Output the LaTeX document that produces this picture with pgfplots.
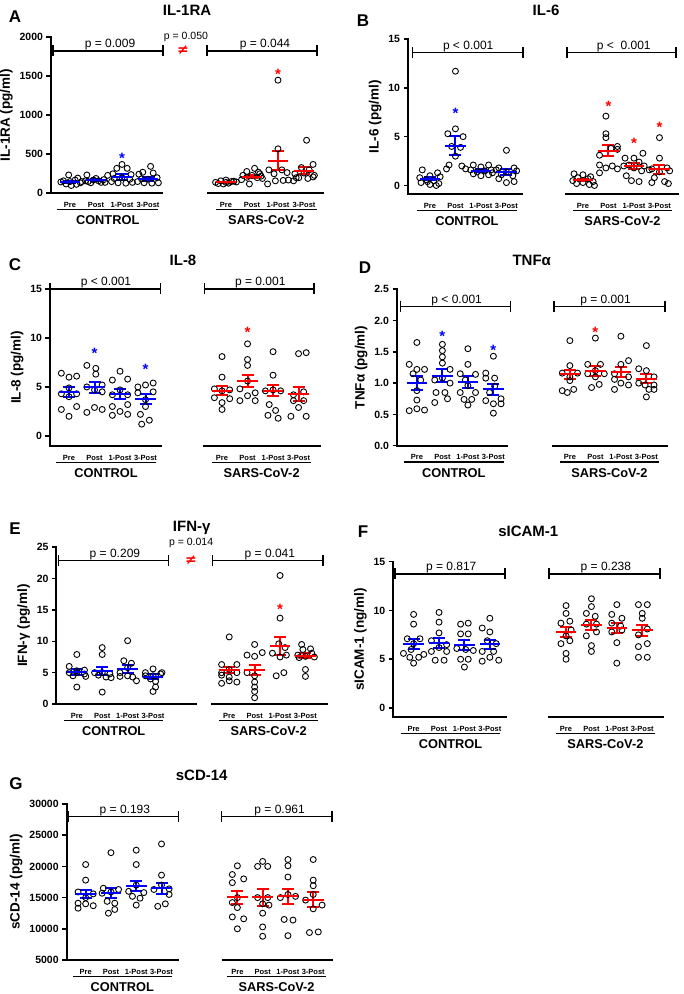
\documentclass[border=0pt]{standalone}
\usepackage{fontspec}
\setmainfont{Liberation Sans}
\newfontfamily\symfont{DejaVu Sans}
\usepackage{pgfplots}
\pgfplotsset{compat=1.18}
\usetikzlibrary{calc}

\newcommand{\tkfont}{\bfseries\fontsize{10.5}{12}\selectfont}
\newcommand{\lblfont}{\bfseries\fontsize{13.5}{15}\selectfont}
\newcommand{\grpfont}{\bfseries\fontsize{12.8}{14}\selectfont}
\newcommand{\catfont}{\bfseries\fontsize{7.5}{8}\selectfont}
\newcommand{\pfont}{\fontsize{12}{13}\selectfont}
\newcommand{\psmall}{\fontsize{10.5}{12}\selectfont}
\newcommand{\ttlfont}{\bfseries\fontsize{15}{17}\selectfont}
\newcommand{\letfont}{\bfseries\fontsize{17}{19}\selectfont}
\newcommand{\astfont}{\bfseries\fontsize{15}{15}\selectfont}

\pgfplotsset{
  cyto/.style={
    scale only axis, clip=false, anchor=south west,
    axis x line*=bottom, axis y line*=left,
    x axis line style={draw=none},
    y axis line style={line width=2pt, line cap=rect},
    xtick={1,2,3,4,7,8,9,10},
    xticklabels={Pre,Post,1-Post,3-Post,Pre,Post,1-Post,3-Post},
    xtick style={draw=none},
    xticklabel style={font=\catfont, yshift=-1pt},
    tick align=outside,
    major tick length=4.5pt,
    ytick style={line width=1.6pt, black},
    yticklabel style={font=\tkfont},
    /pgf/number format/assume math mode=true,
    /pgf/number format/1000 sep={},
    scaled y ticks=false,
    ylabel style={font=\lblfont},
  },
  pts/.style={only marks, mark=o, mark size=3pt, black, mark options={line width=0.9pt, black}},
  grp/.style={only marks, mark=-, mark size=10.3pt, #1,
    mark options={line width=2pt, #1},
    error bars/.cd, y dir=both, y explicit,
    error bar style={line width=2pt, #1},
    error mark options={rotate=90, mark size=6pt, line width=2pt, #1}},
}

% x-axis pieces, group underlines and group names
% #1 xmin, #2 end of control piece, #3 start of SARS piece, #4 xmax, #5 ymin
\newcommand{\xsegs}[5]{%
  \draw[line width=2pt] (axis cs:#1,#5) -- (axis cs:#2,#5);
  \draw[line width=2pt] (axis cs:#3,#5) -- (axis cs:#4,#5);
  \draw[line width=1.5pt] ($(axis cs:0.5,#5)+(0pt,-16.3pt)$) -- ($(axis cs:4.4,#5)+(0pt,-16.3pt)$);
  \draw[line width=1.5pt] ($(axis cs:6.6,#5)+(0pt,-16.3pt)$) -- ($(axis cs:10.5,#5)+(0pt,-16.3pt)$);
  \node[font=\grpfont] at ($(axis cs:2.45,#5)+(0pt,-27pt)$) {CONTROL};
  \node[font=\grpfont] at ($(axis cs:8.55,#5)+(0pt,-27pt)$) {SARS-CoV-2};
}
% significance bracket: #1 left, #2 right, #3 height, #4 text position, #5 text
\newcommand{\bracket}[5]{%
  \draw[line width=1.3pt] (axis cs:#1,#3) -- (axis cs:#2,#3);
  \draw[line width=1.3pt] ($(axis cs:#1,#3)+(0pt,5.5pt)$) -- ($(axis cs:#1,#3)+(0pt,-5.5pt)$);
  \draw[line width=1.3pt] ($(axis cs:#2,#3)+(0pt,5.5pt)$) -- ($(axis cs:#2,#3)+(0pt,-5.5pt)$);
  \node[anchor=base, yshift=3pt, font=\pfont] at (axis cs:#4,#3) {#5};
}
\newcommand{\sigstar}[3]{%
  \node[anchor=base, yshift=-8.5pt, text=#1, font=\astfont] at (axis cs:#2,#3) {*};
}
\newcommand{\neqmark}[2]{%
  \node[text=red, font=\symfont\bfseries\fontsize{14}{14}\selectfont] at (axis cs:#1,#2) {≠};
}

\begin{document}
\begin{tikzpicture}[x=1pt,y=1pt]
\path[use as bounding box] (0,0) rectangle (684,994);

% ---------------- A: IL-1RA ----------------
\node[font=\letfont] at (15,977) {A};
\node[font=\ttlfont] at (187,984) {IL-1RA};
\begin{axis}[cyto, at={(51pt,800.7pt)}, width=273pt, height=156pt,
  xmin=0.27, xmax=10.77, ymin=0, ymax=2000, ytick={0,500,1000,1500,2000},
  ylabel={IL-1RA (pg/ml)}]
\addplot[pts] table[row sep=\\]{x y\\
0.65 145\\ 0.85 120\\ 1.05 100\\ 1.25 115\\ 1.4 135\\ 0.75 160\\ 1.0 150\\ 1.2 170\\ 1.45 150\\ 0.95 235\\ 1.3 195\\
1.65 235\\ 1.7 150\\ 1.9 170\\ 2.1 160\\ 2.3 175\\ 2.45 230\\ 2.2 140\\ 2.0 190\\ 1.8 135\\ 2.35 140\\ 1.6 160\\
3.0 370\\ 2.8 320\\ 3.2 320\\ 2.65 250\\ 3.35 240\\ 3.0 200\\ 2.6 150\\ 2.85 135\\ 3.15 130\\ 3.4 140\\ 3.3 180\\ 2.7 190\\
4.1 345\\ 3.8 270\\ 4.2 260\\ 3.65 245\\ 4.35 200\\ 4.0 180\\ 3.6 150\\ 3.85 135\\ 4.15 130\\ 4.4 135\\ 3.75 185\\
6.6 140\\ 6.8 160\\ 7.0 170\\ 7.2 150\\ 7.4 145\\ 6.7 125\\ 6.9 120\\ 7.1 130\\ 7.3 155\\ 7.0 140\\
8.1 320\\ 7.8 280\\ 8.25 270\\ 7.65 230\\ 8.0 230\\ 8.35 220\\ 7.8 205\\ 8.2 200\\ 7.6 175\\ 8.4 190\\ 7.9 120\\ 8.3 250\\
9.0 1450\\ 9.0 570\\ 8.65 300\\ 9.35 265\\ 8.85 250\\ 9.15 300\\ 8.6 120\\ 9.4 170\\ 8.9 160\\ 9.2 165\\
10.1 680\\ 10.35 370\\ 9.9 330\\ 10.2 300\\ 9.65 250\\ 10.0 260\\ 10.35 210\\ 9.8 200\\ 10.15 190\\ 9.6 160\\ 9.7 200\\ 10.4 230\\
};
\addplot[grp=blue] table[row sep=\\, x=x, y=m, y error=s]{x m s\\ 1 145 13\\ 2 165 12\\ 3 210 38\\ 4 180 25\\};
\addplot[grp=red] table[row sep=\\, x=x, y=m, y error=s]{x m s\\ 7 140 6\\ 8 215 18\\ 9 420 125\\ 10 290 45\\};
\xsegs{0.27}{4.58}{6.27}{10.77}{0}
\bracket{0.35}{4.58}{1825}{2.54}{p = 0.009}
\bracket{6.27}{10.5}{1825}{8.5}{p = 0.044}
\node[font=\psmall] at (axis cs:5.46,2000) {p = 0.050};
\neqmark{5.35}{1838}
\sigstar{blue}{3}{490}
\sigstar{red}{9}{1573}
\end{axis}

% ---------------- B: IL-6 ----------------
\node[font=\letfont] at (363,973.3) {B};
\node[font=\ttlfont] at (546,984) {IL-6};
\begin{axis}[cyto, at={(408pt,799.7pt)}, width=270.6pt, height=155.3pt,
  xmin=0.14, xmax=10.75, ymin=-0.9, ymax=15, ytick={0,5,10,15},
  ylabel={IL-6 (pg/ml)}]
\addplot[pts] table[row sep=\\]{x y\\
0.7 1.6\\ 1.3 1.3\\ 1.0 1.0\\ 0.6 0.8\\ 1.4 0.9\\ 0.85 0.6\\ 1.15 0.5\\ 0.65 0.3\\ 1.35 0.2\\ 1.0 0.1\\ 0.9 0.4\\ 1.25 0.0\\
2.0 11.7\\ 2.0 5.8\\ 1.7 5.3\\ 2.3 5.0\\ 1.85 4.0\\ 2.2 3.9\\ 2.0 3.0\\ 1.75 2.1\\ 2.25 2.0\\ 1.65 1.7\\ 2.4 1.7\\
2.7 2.1\\ 3.3 2.1\\ 3.0 1.9\\ 2.6 1.6\\ 3.4 1.6\\ 2.85 1.4\\ 3.15 1.5\\ 2.7 1.2\\ 3.3 1.1\\ 3.0 1.0\\ 3.45 1.3\\
4.0 3.6\\ 3.7 1.8\\ 4.3 1.8\\ 3.6 1.6\\ 4.4 1.5\\ 4.0 1.4\\ 3.8 1.1\\ 4.25 1.0\\ 3.7 0.7\\ 4.3 0.4\\ 4.0 0.3\\
6.65 1.2\\ 7.0 1.1\\ 7.3 0.9\\ 6.8 0.8\\ 7.2 0.7\\ 6.6 0.5\\ 7.4 0.4\\ 7.0 0.3\\ 6.75 0.2\\ 7.25 0.1\\ 7.45 0.0\\
7.9 7.1\\ 7.9 5.3\\ 7.9 4.9\\ 8.35 4.0\\ 8.1 3.8\\ 8.35 3.7\\ 7.65 3.1\\ 7.65 2.1\\ 8.15 2.0\\ 7.9 1.8\\ 8.35 1.7\\ 7.65 1.3\\
9.35 3.3\\ 8.65 2.8\\ 9.0 2.8\\ 9.2 2.4\\ 8.8 2.1\\ 9.4 2.0\\ 8.6 2.0\\ 9.0 1.8\\ 9.3 1.5\\ 8.7 1.0\\ 8.9 0.5\\ 9.2 0.4\\
10.0 4.9\\ 10.0 2.8\\ 10.3 1.8\\ 9.7 1.7\\ 9.6 1.6\\ 10.4 1.5\\ 10.0 1.4\\ 9.8 0.8\\ 10.2 0.4\\ 9.7 0.3\\ 10.35 0.2\\
};
\addplot[grp=blue] table[row sep=\\, x=x, y=m, y error=s]{x m s\\ 1 0.68 0.15\\ 2 4.09 0.99\\ 3 1.53 0.12\\ 4 1.36 0.28\\};
\addplot[grp=red] table[row sep=\\, x=x, y=m, y error=s]{x m s\\ 7 0.58 0.1\\ 8 3.55 0.56\\ 9 2.01 0.3\\ 10 1.67 0.45\\};
\xsegs{0.14}{4.65}{6.3}{10.75}{-0.9}
\bracket{0.33}{4.65}{13.64}{2.5}{p < 0.001}
\bracket{6.37}{10.65}{13.64}{8.6}{p <\ \ 0.001}
\sigstar{blue}{2}{7.74}
\sigstar{red}{8}{8.49}
\sigstar{red}{9}{4.67}
\sigstar{red}{10}{6.3}
\end{axis}

% ---------------- C: IL-8 ----------------
\node[font=\letfont] at (15,729) {C};
\node[font=\ttlfont] at (183,734) {IL-8};
\begin{axis}[cyto, at={(50pt,548pt)}, width=271pt, height=157pt,
  xmin=0.255, xmax=10.88, ymin=-1.03, ymax=15, ytick={0,5,10,15},
  ylabel={IL-8 (pg/ml)}]
\addplot[pts] table[row sep=\\]{x y\\
0.7 6.4\\ 1.0 6.0\\ 1.3 6.1\\ 1.0 4.9\\ 0.7 4.3\\ 1.3 4.3\\ 1.0 4.0\\ 0.7 2.7\\ 1.3 3.0\\ 1.0 2.0\\
1.7 7.2\\ 2.05 6.9\\ 2.05 6.3\\ 2.3 5.2\\ 1.7 5.0\\ 2.0 4.7\\ 2.3 4.5\\ 2.0 2.9\\ 2.3 2.7\\ 1.7 2.4\\
3.0 6.6\\ 2.7 5.7\\ 3.3 5.8\\ 3.0 4.7\\ 2.7 4.2\\ 3.3 4.2\\ 2.7 3.0\\ 3.3 3.2\\ 3.0 2.5\\ 2.7 2.1\\ 3.3 2.2\\
3.7 5.0\\ 4.0 5.2\\ 4.3 5.4\\ 3.7 4.4\\ 4.3 4.5\\ 4.0 3.7\\ 4.0 3.0\\ 3.8 2.2\\ 3.85 1.2\\ 4.15 1.6\\
7.0 8.1\\ 7.0 6.0\\ 6.7 4.8\\ 7.0 4.6\\ 7.3 4.7\\ 6.7 3.9\\ 7.3 3.8\\ 7.0 3.4\\ 7.0 2.7\\
8.0 9.4\\ 8.0 7.8\\ 8.0 7.2\\ 8.0 5.6\\ 7.7 4.8\\ 8.3 4.4\\ 8.0 4.1\\ 7.7 3.6\\ 8.3 3.6\\
9.0 8.6\\ 9.0 6.2\\ 8.7 4.6\\ 9.0 4.7\\ 9.3 4.6\\ 8.85 3.2\\ 9.1 2.6\\ 8.8 2.1\\ 9.2 1.8\\
10.0 8.4\\ 10.3 8.5\\ 10.2 4.5\\ 9.8 4.2\\ 9.8 3.6\\ 10.2 3.6\\ 10.0 2.9\\ 9.7 2.0\\ 10.3 2.0\\
};
\addplot[grp=blue] table[row sep=\\, x=x, y=m, y error=s]{x m s\\ 1 4.45 0.5\\ 2 4.97 0.55\\ 3 4.28 0.5\\ 4 3.77 0.55\\};
\addplot[grp=red] table[row sep=\\, x=x, y=m, y error=s]{x m s\\ 7 4.63 0.5\\ 8 5.6 0.62\\ 9 4.63 0.6\\ 10 4.28 0.72\\};
\xsegs{0.255}{4.65}{6.27}{10.88}{-1.03}
\bracket{0.255}{4.6}{15}{2.45}{p < 0.001}
\bracket{6.3}{10.6}{15}{8.5}{p = 0.001}
\sigstar{blue}{2}{8.73}
\sigstar{blue}{4}{7.13}
\sigstar{red}{8}{10.9}
\end{axis}

% ---------------- D: TNFa ----------------
\node[font=\letfont] at (365,726) {D};
\node[font=\ttlfont] at (531.7,734) {TNFα};
\begin{axis}[cyto, at={(397pt,548.3pt)}, width=270.8pt, height=156.4pt,
  xmin=0.22, xmax=10.84, ymin=0, ymax=2.5, ytick={0,0.5,1,1.5,2,2.5},
  yticklabel style={/pgf/number format/fixed, /pgf/number format/fixed zerofill, /pgf/number format/precision=1},
  ylabel={TNFα (pg/ml)}]
\addplot[pts] table[row sep=\\]{x y\\
1.0 1.65\\ 0.7 1.3\\ 1.0 1.22\\ 1.3 1.22\\ 0.85 1.15\\ 1.15 1.05\\ 1.0 0.88\\ 1.0 0.73\\ 0.7 0.56\\ 1.0 0.59\\ 1.3 0.57\\
2.0 1.62\\ 2.0 1.52\\ 2.0 1.42\\ 2.0 1.32\\ 2.3 1.22\\ 1.7 1.05\\ 2.0 1.08\\ 2.3 1.0\\ 1.75 0.85\\ 2.1 0.85\\ 1.7 0.69\\ 2.2 0.75\\
3.0 1.55\\ 3.0 1.3\\ 2.7 1.15\\ 3.3 1.14\\ 2.9 1.05\\ 3.0 0.96\\ 2.7 0.85\\ 3.3 0.85\\ 2.85 0.74\\ 3.15 0.74\\ 3.0 0.65\\
4.0 1.43\\ 3.7 1.16\\ 3.7 1.08\\ 4.05 1.08\\ 4.05 0.95\\ 3.7 0.72\\ 4.3 0.75\\ 4.0 0.67\\ 4.3 0.67\\ 4.0 0.52\\ 3.85 0.85\\
7.0 1.68\\ 7.0 1.28\\ 6.7 1.16\\ 7.3 1.16\\ 7.0 1.1\\ 7.0 1.04\\ 6.7 0.88\\ 6.9 0.85\\ 7.15 0.9\\
8.0 1.72\\ 7.7 1.3\\ 8.2 1.3\\ 8.0 1.2\\ 7.7 1.15\\ 8.35 1.15\\ 8.0 1.1\\ 8.15 0.98\\ 7.85 0.93\\
9.0 1.75\\ 9.3 1.36\\ 9.0 1.3\\ 8.75 1.15\\ 8.75 1.06\\ 9.3 1.1\\ 9.0 1.0\\ 9.3 0.97\\ 8.75 0.9\\
10.0 1.6\\ 9.7 1.23\\ 10.0 1.2\\ 10.3 1.1\\ 9.7 1.0\\ 9.95 0.97\\ 10.3 0.97\\ 10.1 0.9\\ 10.3 0.9\\ 10.0 0.78\\
};
\addplot[grp=blue] table[row sep=\\, x=x, y=m, y error=s]{x m s\\ 1 1.0 0.115\\ 2 1.12 0.1\\ 3 1.02 0.09\\ 4 0.9 0.09\\};
\addplot[grp=red] table[row sep=\\, x=x, y=m, y error=s]{x m s\\ 7 1.14 0.07\\ 8 1.2 0.08\\ 9 1.18 0.08\\ 10 1.07 0.07\\};
\xsegs{0.22}{4.57}{6.29}{10.84}{0}
\bracket{0.36}{4.67}{2.23}{2.56}{p < 0.001}
\bracket{6.38}{10.73}{2.23}{8.4}{p = 0.001}
\sigstar{blue}{2}{1.8}
\sigstar{blue}{4}{1.57}
\sigstar{red}{8}{1.86}
\end{axis}

% ---------------- E: IFN-gamma ----------------
\node[font=\letfont] at (15,465.7) {E};
\node[font=\ttlfont] at (191.7,465.7) {IFN-γ};
\begin{axis}[cyto, at={(56.5pt,290pt)}, width=271.8pt, height=156.7pt,
  xmin=0.2, xmax=10.9, ymin=0, ymax=25, ytick={0,5,10,15,20,25},
  ylabel={IFN-γ (pg/ml)}]
\addplot[pts] table[row sep=\\]{x y\\
1.0 7.9\\ 0.7 6.0\\ 1.3 5.4\\ 1.0 5.3\\ 0.7 5.0\\ 1.0 5.0\\ 1.3 4.8\\ 0.85 4.5\\ 1.35 4.4\\ 1.0 2.7\\
2.0 9.0\\ 2.0 7.9\\ 1.7 5.0\\ 2.0 5.0\\ 2.3 4.8\\ 1.85 4.6\\ 2.15 4.3\\ 2.35 4.2\\ 2.0 1.9\\
3.0 10.1\\ 2.85 6.9\\ 3.15 6.5\\ 3.0 5.8\\ 2.7 5.0\\ 2.7 4.4\\ 3.0 4.5\\ 3.2 4.3\\ 3.35 3.7\\
4.0 5.6\\ 3.7 5.0\\ 4.3 4.8\\ 3.7 4.5\\ 4.0 4.5\\ 3.9 4.0\\ 4.1 3.6\\ 4.1 2.7\\ 4.0 2.0\\ 4.35 5.0\\
7.0 10.7\\ 6.7 6.3\\ 7.3 6.3\\ 7.0 5.5\\ 6.7 5.0\\ 7.3 5.0\\ 6.7 4.6\\ 7.0 4.3\\ 7.0 3.7\\ 7.3 3.5\\ 6.7 3.3\\
8.0 9.5\\ 8.3 8.2\\ 7.7 7.8\\ 8.0 7.6\\ 7.7 5.0\\ 8.0 4.5\\ 8.0 3.5\\ 8.0 2.7\\ 8.0 2.0\\ 8.0 1.0\\
9.0 20.5\\ 9.0 13.7\\ 8.7 8.1\\ 8.95 9.6\\ 9.2 9.0\\ 9.25 7.8\\ 9.0 7.5\\ 9.15 5.0\\ 8.85 4.5\\
9.85 9.5\\ 10.2 8.8\\ 9.9 8.7\\ 10.25 8.1\\ 9.7 7.8\\ 10.0 7.6\\ 10.35 7.5\\ 10.0 5.5\\ 10.0 4.4\\ 9.75 7.4\\
};
\addplot[grp=blue] table[row sep=\\, x=x, y=m, y error=s]{x m s\\ 1 5.15 0.5\\ 2 5.26 0.6\\ 3 5.58 0.65\\ 4 4.36 0.37\\};
\addplot[grp=red] table[row sep=\\, x=x, y=m, y error=s]{x m s\\ 7 5.42 0.55\\ 8 5.42 0.85\\ 9 9.3 1.45\\ 10 7.7 0.4\\};
\xsegs{0.2}{5.74}{6.3}{10.9}{0}
\bracket{0.28}{4.6}{22.85}{2.5}{p = 0.209}
\bracket{6.34}{10.69}{22.85}{8.6}{p = 0.041}
\node[font=\psmall] at (axis cs:5.5,25.7) {p = 0.014};
\neqmark{5.49}{23}
\sigstar{red}{9}{15.6}
\end{axis}

% ---------------- F: sICAM-1 ----------------
\node[font=\letfont] at (363,462.3) {F};
\node[font=\ttlfont] at (528.3,462.3) {sICAM-1};
\begin{axis}[cyto, at={(393.3pt,276.7pt)}, width=271.8pt, height=155.6pt,
  xmin=0.2, xmax=10.9, ymin=-0.95, ymax=15, ytick={0,5,10,15},
  ylabel={sICAM-1 (ng/ml)}]
\addplot[pts] table[row sep=\\]{x y\\
1.0 9.6\\ 1.0 8.6\\ 0.75 7.1\\ 1.25 7.1\\ 1.0 6.6\\ 0.9 6.0\\ 0.6 5.6\\ 1.4 5.5\\ 0.85 5.2\\ 1.2 5.2\\ 1.0 4.6\\
2.0 9.8\\ 2.0 8.8\\ 2.0 7.7\\ 1.7 6.9\\ 2.3 6.5\\ 2.0 6.2\\ 1.7 5.8\\ 2.3 5.8\\ 1.85 4.9\\ 2.2 4.9\\
2.85 8.6\\ 3.15 8.7\\ 2.85 7.6\\ 3.15 7.6\\ 2.7 6.1\\ 3.05 6.0\\ 3.35 5.9\\ 2.85 5.0\\ 3.15 5.0\\ 3.0 4.2\\
4.0 9.2\\ 3.7 8.2\\ 4.0 7.8\\ 3.9 6.9\\ 4.25 6.6\\ 3.7 5.8\\ 4.15 5.8\\ 4.0 5.2\\ 3.7 4.8\\ 4.35 4.9\\
7.0 10.5\\ 7.0 9.7\\ 6.8 8.7\\ 7.15 8.9\\ 7.2 8.0\\ 7.0 7.4\\ 7.15 6.9\\ 6.8 6.6\\ 7.0 5.6\\ 7.0 5.0\\
8.0 11.2\\ 8.0 10.4\\ 7.8 9.7\\ 8.15 9.4\\ 7.8 8.6\\ 8.2 8.6\\ 8.2 7.8\\ 7.8 7.4\\ 8.0 6.4\\ 8.0 5.8\\
9.0 10.6\\ 8.8 9.6\\ 9.2 9.2\\ 8.8 8.7\\ 9.15 8.4\\ 9.2 8.0\\ 8.8 7.8\\ 9.0 6.7\\ 9.0 4.6\\
9.85 10.6\\ 10.2 10.6\\ 10.0 9.7\\ 10.0 9.2\\ 10.2 8.1\\ 9.85 7.5\\ 10.2 6.6\\ 9.85 6.3\\ 9.85 5.2\\ 10.2 5.2\\
};
\addplot[grp=blue] table[row sep=\\, x=x, y=m, y error=s]{x m s\\ 1 6.6 0.5\\ 2 6.67 0.5\\ 3 6.43 0.53\\ 4 6.53 0.46\\};
\addplot[grp=red] table[row sep=\\, x=x, y=m, y error=s]{x m s\\ 7 7.79 0.55\\ 8 8.54 0.51\\ 9 8.2 0.55\\ 10 7.96 0.6\\};
\xsegs{0.2}{4.67}{6.3}{10.85}{-0.95}
\bracket{0.27}{4.6}{13.75}{2.48}{p = 0.817}
\bracket{6.33}{10.7}{13.75}{8.57}{p = 0.238}
\end{axis}

% ---------------- G: sCD-14 ----------------
\node[font=\letfont] at (16,210) {G};
\node[font=\ttlfont] at (201.7,218.3) {sCD-14};
\begin{axis}[cyto, at={(66.7pt,34pt)}, width=266pt, height=156pt,
  xmin=0.25, xmax=10.77, ymin=5000, ymax=30000, ytick={5000,10000,15000,20000,25000,30000},
  ylabel={sCD-14 (pg/ml)}]
\addplot[pts] table[row sep=\\]{x y\\
1.0 20300\\ 1.0 17800\\ 0.7 15900\\ 1.3 15600\\ 1.0 15000\\ 0.7 14100\\ 1.0 14000\\ 1.3 13700\\ 0.7 13300\\
2.0 22200\\ 1.7 16500\\ 2.3 16300\\ 2.0 15900\\ 1.85 14400\\ 2.15 14100\\ 2.15 13100\\ 1.9 12500\\ 1.65 15700\\
3.0 22600\\ 3.0 20300\\ 3.0 17000\\ 2.7 16000\\ 3.3 15800\\ 2.85 15200\\ 3.15 14900\\ 3.0 13800\\
4.0 23600\\ 4.0 18600\\ 4.0 17000\\ 3.7 16300\\ 4.3 16400\\ 4.3 15500\\ 4.15 14000\\ 3.85 13600\\
7.0 20100\\ 6.8 18700\\ 6.8 17400\\ 7.25 18000\\ 7.0 15000\\ 6.8 14200\\ 7.0 13400\\ 6.8 11900\\ 7.25 11600\\ 7.0 10000\\
8.0 20800\\ 7.8 20000\\ 8.2 20000\\ 7.8 15000\\ 8.2 15000\\ 8.0 14000\\ 8.25 13800\\ 8.0 12500\\ 8.0 10300\\ 8.0 8800\\
9.0 21100\\ 9.0 20100\\ 9.0 18300\\ 9.0 15500\\ 8.7 15000\\ 9.3 15200\\ 8.85 11500\\ 9.2 11400\\ 9.0 8900\\
10.0 21100\\ 10.0 17800\\ 10.0 16900\\ 10.0 15500\\ 9.7 14600\\ 10.35 13800\\ 10.0 13200\\ 9.85 9400\\ 10.2 9500\\
};
\addplot[grp=blue] table[row sep=\\, x=x, y=m, y error=s]{x m s\\ 1 15600 650\\ 2 15720 800\\ 3 16790 800\\ 4 16500 900\\};
\addplot[grp=red] table[row sep=\\, x=x, y=m, y error=s]{x m s\\ 7 15020 1050\\ 8 15020 1300\\ 9 15180 1200\\ 10 14640 1200\\};
\xsegs{0.25}{4.68}{6.38}{10.77}{5000}
\bracket{0.31}{4.66}{27943}{2.55}{p = 0.193}
\bracket{6.36}{10.74}{27943}{8.67}{p = 0.961}
\end{axis}

\end{tikzpicture}
\end{document}
